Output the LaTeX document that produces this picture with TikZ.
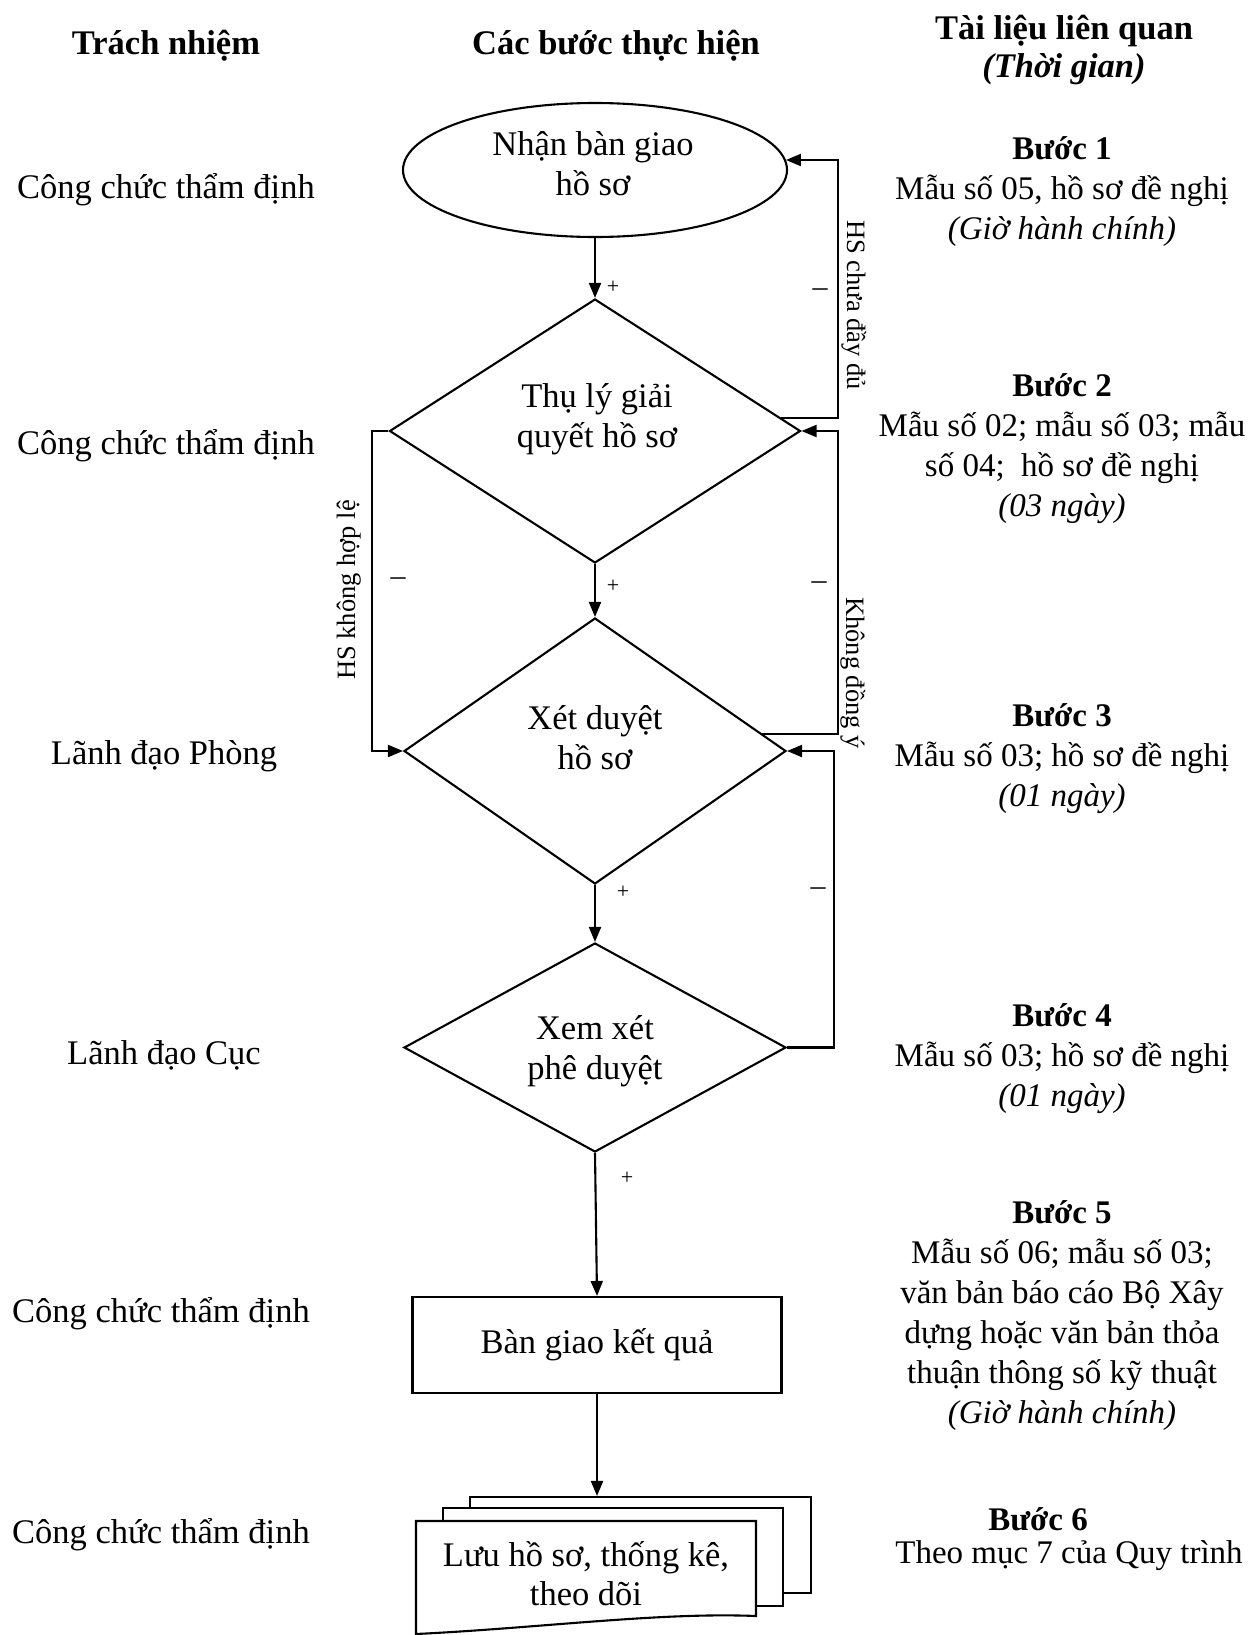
\documentclass[tikz,border=0pt]{standalone}
\usepackage{fontspec}
\setmainfont{Liberation Serif}
\usetikzlibrary{shapes.geometric,arrows.meta,calc}
\begin{document}
\begin{tikzpicture}[x=1pt,y=-1pt,
  txt/.style={font=\fontsize{34.5}{40}\selectfont, inner sep=0pt, align=center},
  rtxt/.style={font=\fontsize{33}{40}\selectfont, inner sep=0pt, align=center},
  hdr/.style={font=\fontsize{34.5}{38}\selectfont\bfseries, inner sep=0pt, align=center},
  vlbl/.style={font=\fontsize{26.5}{30}\selectfont, inner sep=0pt, anchor=base},
  sgn/.style={font=\fontsize{22}{24}\selectfont, inner sep=0pt},
  msgn/.style={font=\fontsize{30}{32}\selectfont, inner sep=0pt},
  arr/.style={line width=2.1pt, -{Triangle[length=15pt,width=12pt]}},
  dia/.style={diamond, draw, line width=2.1pt, inner sep=0pt},
  box/.style={draw, line width=2.1pt, inner sep=0pt},
  page/.style={draw, line width=2.1pt, fill=white, inner sep=0pt},
  ]
\useasboundingbox (0,0) rectangle (1248,1635);
\fill[white] (0,0) rectangle (1248,1635);

% headers
\node[hdr] (h1) at (166,46) {Trách nhiệm};
\node[hdr] (h2) at (616,46) {Các bước thực hiện};
\node[hdr] (h3) at (1064,50) {Tài liệu liên quan\\\textit{(Thời gian)}};

% responsibility column
\node[txt] (r1) at (166,190) {Công chức thẩm định};
\node[txt] (r2) at (166,446) {Công chức thẩm định};
\node[txt] (r3) at (164,756) {Lãnh đạo Phòng};
\node[txt] (r4) at (164,1055) {Lãnh đạo Cục};
\node[txt] (r5) at (161,1314) {Công chức thẩm định};
\node[txt] (r6) at (161,1535) {Công chức thẩm định};

% flow shapes
\node[ellipse, box, minimum width=384, minimum height=134] (e) at (595,170) {};
\node[txt] (et) at (593,164) {Nhận bàn giao\\hồ sơ};

\node[dia, minimum width=411, minimum height=264] (d1) at (595,431) {};
\node[txt] (d1t) at (597,419) {Thụ lý giải\\quyết hồ sơ};

\node[dia, minimum width=382, minimum height=266] (d2) at (595,751) {};
\node[txt] (d2t) at (595,738) {Xét duyệt\\hồ sơ};

\node[dia, minimum width=382, minimum height=209] (d3) at (595,1047.5) {};
\node[txt] (d3t) at (595,1051) {Xem xét\\phê duyệt};

\node[box, txt, minimum width=369, minimum height=96] (r) at (597,1345) {Bàn giao kết quả};

% document stack
\node[page, minimum width=341, minimum height=96] (docback) at (640.5,1545) {};
\node[page, minimum width=340, minimum height=98] (docmid) at (613,1557) {};
\draw[line width=2.1pt, fill=white] (416,1521) -- (756,1521) -- (756,1616)
  .. controls (660,1612) and (540,1628) .. (416,1634) -- cycle;
\node[txt, font=\fontsize{34.5}{39}\selectfont] (doc) at (586,1574) {Lưu hồ sơ, thống kê,\\theo dõi};

% main arrows
\draw[arr] (e.south) -- (d1.north);
\draw[arr] (d1.south) -- (d2.north);
\draw[arr] (d2.south) -- (d3.north);
\draw[arr] (d3.south) -- (r.north);
\draw[arr] (r.south) -- (r.south |- docback.north);

% feedback loops
\coordinate (xr) at (838,0);
\coordinate (xr3) at (834,0);
\coordinate (xl) at (372,0);
\coordinate (c1) at ($(d1.east)!0.1!(d1.north)$);
\coordinate (c2) at ($(d2.east)!0.13!(d2.north)$);
\coordinate (ea) at (e.3);
\draw[arr] (c1) -- (c1 -| xr) -- (xr |- ea) -- (ea);
\draw[arr] (c2) -- (c2 -| xr) -- (xr |- d1.east) -- (d1.east);
\draw[arr] (d3.east) -- (d3.east -| xr3) -- (xr3 |- d2.east) -- (d2.east);
\draw[arr] (d1.west) -- (d1.west -| xl) -- (xl |- d2.west) -- (d2.west);

% loop labels
\node[vlbl, rotate=-90] (l1) at (847,305) {HS chưa đầy đủ};
\node[vlbl, rotate=-90] (l2) at (846,673) {Không đồng ý};
\node[vlbl, rotate=90] (l3) at (355,590) {HS không hợp lệ};

% signs
\node[sgn] (p1) at (613,287) {+};
\node[sgn] (p2) at (613,586) {+};
\node[sgn] (p3) at (623,892) {+};
\node[sgn] (p4) at (627,1178) {+};
\node[msgn] (m1) at (820,293) {–};
\node[msgn] (m2) at (819,586) {–};
\node[msgn] (m3) at (818,892) {–};
\node[msgn] (m4) at (398,582) {–};

% documents column
\node[rtxt] (s1) at (1062,192) {\textbf{Bước 1}\\Mẫu số 05, hồ sơ đề nghị\\\textit{(Giờ hành chính)}};
\node[rtxt] (s2) at (1062,449) {\textbf{Bước 2}\\Mẫu số 02; mẫu số 03; mẫu\\số 04;~ hồ sơ đề nghị\\\textit{(03 ngày)}};
\node[rtxt] (s3) at (1062,759) {\textbf{Bước 3}\\Mẫu số 03; hồ sơ đề nghị\\\textit{(01 ngày)}};
\node[rtxt] (s4) at (1062,1059) {\textbf{Bước 4}\\Mẫu số 03; hồ sơ đề nghị\\\textit{(01 ngày)}};
\node[rtxt] (s5) at (1062,1316) {\textbf{Bước 5}\\Mẫu số 06; mẫu số 03;\\văn bản báo cáo Bộ Xây\\dựng hoặc văn bản thỏa\\thuận thông số kỹ thuật\\\textit{(Giờ hành chính)}};
\node[rtxt] (s6) at (1038,1519) {\textbf{Bước 6}};
\node[rtxt] (s6b) at (1069,1556) {Theo mục 7 của Quy trình};
\end{tikzpicture}
\end{document}
